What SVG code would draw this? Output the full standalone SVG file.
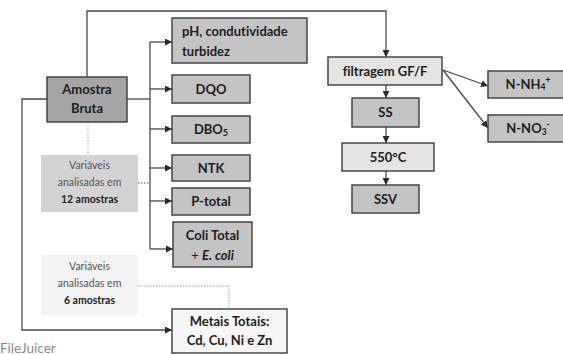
<svg xmlns="http://www.w3.org/2000/svg" width="563" height="355" viewBox="0 0 563 355">
<defs>
<marker id="ah" viewBox="0 0 10 10" refX="10" refY="5" markerWidth="7" markerHeight="7" markerUnits="userSpaceOnUse" orient="auto">
<path d="M0,0 L10,5 L0,10 z" fill="#2a2a2a"/>
</marker>
<style>
text{font-variant-ligatures:none}
.box{stroke:#3c3c3c;stroke-width:1.4}
.dark{fill:#a5a5a5}
.mid{fill:#c4c4c4}
.light{fill:#e4e4e4}
.white{fill:#f6f6f6}
.t{font-family:Lato,"Open Sans",sans-serif;font-weight:bold;font-size:13px;fill:#1e1e1e;text-anchor:middle}
.l{text-anchor:start}
.s{font-family:Lato,"Open Sans",sans-serif;font-size:10.5px;fill:#555;text-anchor:middle}
.sb{font-family:Lato,"Open Sans",sans-serif;font-weight:bold;font-size:10.5px;fill:#222;text-anchor:middle}
.c{fill:none;stroke:#4a4a4a;stroke-width:1.3}
.d{fill:none;stroke:#555;stroke-width:1;stroke-dasharray:1.5,1.5}
</style>
</defs>
<rect width="563" height="355" fill="#ffffff"/>

<g id="connectors">
<path class="c" d="M87,77 V11 H386 V57" marker-end="url(#ah)"/>
<path class="c" d="M127,99 H150"/>
<path class="c" d="M150,42 V249"/>
<path class="c" d="M150,42 H172" marker-end="url(#ah)"/>
<path class="c" d="M150,89 H172" marker-end="url(#ah)"/>
<path class="c" d="M150,129 H172" marker-end="url(#ah)"/>
<path class="c" d="M150,168 H172" marker-end="url(#ah)"/>
<path class="c" d="M150,201 H172" marker-end="url(#ah)"/>
<path class="c" d="M150,249 H173" marker-end="url(#ah)"/>
<path class="c" d="M47,99 H22 V330 H172" marker-end="url(#ah)"/>
<path class="c" d="M386,85 V98" marker-end="url(#ah)"/>
<path class="c" d="M386,127 V143" marker-end="url(#ah)"/>
<path class="c" d="M386,171 V185" marker-end="url(#ah)"/>
<path class="c" d="M443,70 L488,86" marker-end="url(#ah)"/>
<path class="c" d="M443,70 L488,128" marker-end="url(#ah)"/>
<path class="d" d="M88,122 V155" style="stroke:#aaa"/>
<path class="d" d="M138,183 H150"/>
<path class="d" d="M138,286 H229 V309" style="stroke:#999"/>
</g>

<g id="amostra">
<rect class="box dark" x="47" y="77" width="80" height="45"/>
<text class="t" x="87" y="94">Amostra</text>
<text class="t" x="87" y="113">Bruta</text>
</g>

<g id="ph">
<rect class="box mid" x="172" y="18" width="135" height="45"/>
<text class="t l" x="182" y="36">pH, condutividade</text>
<text class="t l" x="182" y="56">turbidez</text>
</g>

<g id="dqo">
<rect class="box mid" x="172" y="75" width="78" height="28"/>
<text class="t" x="211" y="94">DQO</text>
</g>

<g id="dbo">
<rect class="box mid" x="172" y="116" width="78" height="27"/>
<text class="t" x="211" y="134">DBO<tspan font-size="9" dy="2">5</tspan></text>
</g>

<g id="ntk">
<rect class="box mid" x="172" y="155" width="78" height="26"/>
<text class="t" x="211" y="173">NTK</text>
</g>

<g id="ptotal">
<rect class="box mid" x="172" y="188" width="78" height="27"/>
<text class="t" x="211" y="206">P-total</text>
</g>

<g id="coli">
<rect class="box mid" x="173" y="222" width="79" height="45"/>
<text class="t" x="212.5" y="240">Coli Total</text>
<text class="t" x="212.5" y="260"><tspan font-weight="normal">+ </tspan><tspan font-style="italic">E. coli</tspan></text>
</g>

<g id="var12">
<rect x="41" y="155" width="97" height="57" fill="#d3d3d3"/>
<text class="s" x="89.5" y="169">Variáveis</text>
<text class="s" x="89.5" y="186">analisadas em</text>
<text class="sb" x="89.5" y="203">12 amostras</text>
</g>

<g id="var6">
<rect x="41" y="255" width="97" height="60" fill="#f3f3f3"/>
<text class="s" x="89.5" y="270">Variáveis</text>
<text class="s" x="89.5" y="287">analisadas em</text>
<text class="sb" x="89.5" y="304">6 amostras</text>
</g>

<g id="metais">
<rect class="box white" x="172" y="309" width="115" height="44"/>
<text class="t" x="229.5" y="326">Metais Totais:</text>
<text class="t" x="229.5" y="345">Cd, Cu, Ni e Zn</text>
</g>

<g id="filtragem">
<rect class="box light" x="328" y="57" width="114" height="28"/>
<text class="t" x="385" y="76">filtragem GF/F</text>
</g>

<g id="ss">
<rect class="box mid" x="352" y="98" width="67" height="29"/>
<text class="t" x="385.5" y="117">SS</text>
</g>

<g id="t550">
<rect class="box light" x="342" y="143" width="92" height="28"/>
<text class="t" x="388" y="162">550°C</text>
</g>

<g id="ssv">
<rect class="box mid" x="352" y="185" width="67" height="28"/>
<text class="t" x="385.5" y="204">SSV</text>
</g>

<g id="nh4">
<rect class="box mid" x="488" y="71" width="80" height="27"/>
<text class="t" x="528" y="89">N-NH<tspan font-size="8.5" dy="1">4</tspan><tspan font-size="8.5" dy="-7">+</tspan></text>
</g>

<g id="no3">
<rect class="box mid" x="488" y="115" width="80" height="27"/>
<text class="t" x="528" y="133">N-NO<tspan font-size="8.5" dy="2">3</tspan><tspan font-size="8.5" dy="-8">-</tspan></text>
</g>

<text x="0" y="353" font-family="Lato,'Open Sans',sans-serif" font-size="13.5" fill="#8a8a8a">FileJuicer</text>
</svg>
